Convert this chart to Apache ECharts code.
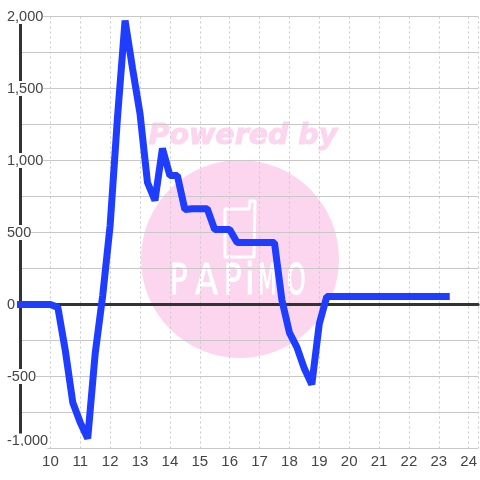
<!DOCTYPE html>
<html>
<head>
<meta charset="utf-8">
<style>
    html, body { margin: 0; padding: 0; background: #fff; }
    #main { width: 480px; height: 480px; }
</style>
<script src="https://cdn.jsdelivr.net/npm/echarts@6/dist/echarts.min.js"></script>
</head>
<body>
<div id="main"></div>
<script>
    // quarter hours, 9:00 to 23:15
    var hours = [9, 9.25, 9.5, 9.75, 10, 10.25, 10.5, 10.75, 11, 11.25, 11.5, 11.75,
        12, 12.25, 12.5, 12.75, 13, 13.25, 13.5, 13.75, 14, 14.25, 14.5, 14.75,
        15, 15.25, 15.5, 15.75, 16, 16.25, 16.5, 16.75, 17, 17.25, 17.5, 17.75,
        18, 18.25, 18.5, 18.75, 19, 19.25, 19.5, 19.75, 20, 20.25, 20.5, 20.75,
        21, 21.25, 21.5, 21.75, 22, 22.25, 22.5, 22.75, 23, 23.25];
    var power = [0, 0, 0, 0, 0, -20, -320, -680, -820, -930, -340, 60,
        550, 1310, 1972, 1640, 1326, 847, 722, 1083, 896, 896, 660, 665,
        665, 665, 520, 520, 520, 430, 430, 430, 430, 430, 430, 30,
        -195, -296, -445, -555, -135, 55, 55, 55, 55, 55, 55, 55,
        55, 55, 55, 55, 55, 55, 55, 55, 55, 55];

    var grayLine = '#c8c8c8';
    var darkLine = '#333333';
    var pink = '#fbd6ee';
    var xMax = 24.3167;

    // logo letters: text, left edge, squeeze
    var logoLetters = ['P', 'A', 'P', 'i', 'M', 'O'];
    var logoLeft = [170, 195, 224, 245, 258, 287];
    var logoScale = [0.68, 0.78, 0.68, 0.8, 0.5, 0.55];

    var chart = echarts.init(document.getElementById('main'));

    var points = hours.map(function (h, i) { return [h, power[i]]; });

    var logoText = logoLetters.map(function (ch, i) {
        return {
            type: 'text',
            z: -9,
            x: logoLeft[i],
            y: 304,
            scaleX: logoScale[i],
            style: {
                text: ch,
                fill: '#ffffff',
                stroke: '#ffffff',
                lineWidth: 1,
                font: '43px "DejaVu Sans"',
                verticalAlign: 'bottom'
            }
        };
    });

    chart.setOption({
        animation: false,
        backgroundColor: '#ffffff',
        grid: { left: 20.5, right: 0, top: 16.5, bottom: 31.5 },
        // watermark sits under the grid
        graphic: [
            { type: 'circle', z: -10, shape: { cx: 240, cy: 259, r: 99 }, style: { fill: pink } },
            {
                type: 'text',
                z: -9,
                left: 148,
                top: 122,
                style: { text: 'Powered by', fill: pink, stroke: pink, lineWidth: 1, font: 'italic bold 28.5px "DejaVu Sans"' }
            },
            {
                type: 'polygon',
                z: -9,
                shape: { points: [[225, 209], [249, 209], [250, 201], [255, 201], [254, 257], [225, 257]] },
                style: { fill: 'none', stroke: '#ffffff', lineWidth: 3, lineJoin: 'round' }
            },
            // the -1,000 label hides the axis corner
            { type: 'rect', z: 1, shape: { x: 18, y: 446, width: 28, height: 4 }, style: { fill: '#ffffff' } }
        ].concat(logoText),
        xAxis: [
            {
                type: 'value',
                min: 9,
                max: xMax,
                interval: 1,
                position: 'bottom',
                axisLine: { show: false, onZero: false },
                axisTick: { show: false },
                axisLabel: {
                    color: '#444',
                    fontSize: 15,
                    fontFamily: 'Liberation Sans',
                    margin: 6,
                    showMaxLabel: false,
                    formatter: function (v) { return v === 9 ? '' : String(v); }
                },
                splitLine: { show: true, lineStyle: { color: grayLine, type: [2, 3], width: 1 } }
            },
            {
                // heavy line at zero
                type: 'value',
                min: 9,
                max: xMax,
                interval: 1,
                position: 'bottom',
                axisLine: { show: true, onZero: true, lineStyle: { color: darkLine, width: 3 } },
                axisTick: { show: false },
                axisLabel: { show: false },
                splitLine: { show: false }
            }
        ],
        yAxis: {
            type: 'value',
            min: -1000,
            max: 2000,
            interval: 250,
            axisLine: { show: true, onZero: false, lineStyle: { color: darkLine, width: 3 } },
            axisTick: { show: false },
            axisLabel: {
                color: '#444',
                fontSize: 14.5,
                fontFamily: 'Liberation Sans',
                margin: 13.5,
                align: 'left',
                backgroundColor: '#ffffff',
                verticalAlignMinLabel: 'bottom',
                formatter: function (v) {
                    return v % 500 === 0 ? v.toLocaleString('en-US') : '';
                }
            },
            splitLine: { show: true, lineStyle: { color: grayLine, width: 1 } }
        },
        series: [{
            type: 'line',
            data: points,
            symbol: 'none',
            clip: false,
            z: 5,
            lineStyle: { color: '#1f3dff', width: 7, cap: 'square', join: 'bevel' }
        }]
    });
</script>
</body>
</html>
